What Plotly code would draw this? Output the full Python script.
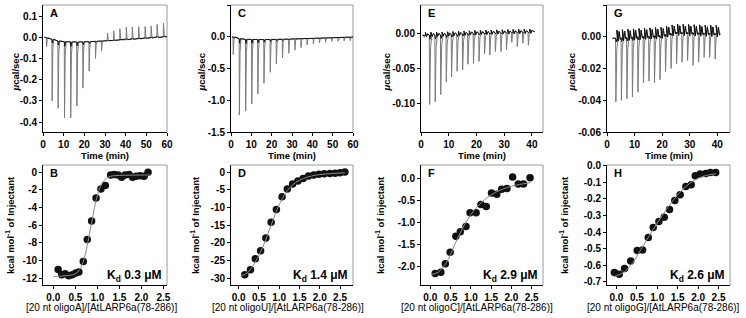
import numpy as np
import plotly.graph_objects as go

W, H = 746, 318

# ---------------- DATA ----------------
# Panel A (raw thermogram, oligoA)
A_inj_t = [1.6, 4.3, 7.2, 10.3, 13.3, 16.3, 19.2, 22.2, 25.3, 28.2, 31.1, 34.1, 37.1, 40.2, 43.1, 46.2, 49.3, 52.2, 55.1, 58.2]
A_peak = [-0.045, -0.30, -0.335, -0.38, -0.38, -0.325, -0.24, -0.16, -0.10, -0.065, 0.02, 0.03, 0.04, 0.048, 0.048, 0.05, 0.05, 0.053, 0.06, 0.066]
A_base_t = [0.7, 3, 8, 15, 22, 30, 40, 50, 60]
A_base_v = [0.0, -0.006, -0.02, -0.023, -0.021, -0.017, -0.012, -0.005, 0.003]

# Panel C (raw thermogram, oligoU)
C_inj_t = [1.0, 4.0, 7.1, 10.1, 13.1, 16.1, 19.2, 22.2, 25.2, 28.3, 31.3, 34.3, 37.3, 40.4, 43.4, 46.4, 49.4, 52.5, 55.5, 58.5]
C_peak = [-0.28, -1.23, -1.17, -1.06, -0.90, -0.73, -0.56, -0.43, -0.33, -0.26, -0.21, -0.17, -0.13, -0.115, -0.095, -0.085, -0.075, -0.07, -0.065, -0.06]
C_base_t = [0.5, 2, 5, 15, 25, 35, 45, 60]
C_base_v = [0.0, -0.01, -0.04, -0.045, -0.04, -0.03, -0.02, -0.005]

# Panel E (raw thermogram, oligoC)
E_inj_t = [1.0, 3.0, 5.0, 7.0, 9.0, 10.9, 12.9, 14.9, 16.8, 18.8, 20.8, 22.8, 24.7, 26.7, 28.7, 30.7, 32.6, 34.6, 36.6, 38.6]
E_peak = [-0.006, -0.101, -0.097, -0.087, -0.069, -0.062, -0.054, -0.052, -0.044, -0.043, -0.040, -0.029, -0.031, -0.026, -0.026, -0.023, -0.013, -0.019, -0.014, -0.017]
E_base_t = [0.5, 10, 20, 30, 41]
E_base_v = [-0.003, -0.002, 0.0, 0.001, 0.002]
E_ring_dt = [0.6, 1.0, 1.4]
E_ring_amp = [0.004, -0.002, 0.002]

# Panel G (raw thermogram, oligoG)
G_inj_t = [3.1, 5.1, 7.1, 9.1, 11.1, 13.1, 15.1, 17.1, 19.1, 21.1, 23.1, 25.1, 27.1, 29.1, 31.1, 33.1, 35.1, 37.1, 39.1]
G_peak = [-0.041, -0.040, -0.039, -0.038, -0.035, -0.029, -0.028, -0.029, -0.027, -0.022, -0.020, -0.017, -0.016, -0.015, -0.018, -0.016, -0.013, -0.013, -0.014]
G_base_t = [2.0, 10, 20, 25, 41]
G_base_v = [-0.001, 0.0, 0.001, 0.003, 0.002]
G_ring_dt = [0.5, 0.9, 1.3, 1.7]
G_ring_amp = [0.005, -0.002, 0.004, -0.001]

# Panel B (integrated heats, oligoA)
B_x = [0.11, 0.19, 0.27, 0.35, 0.43, 0.51, 0.58, 0.68, 0.77, 0.87, 0.97, 1.08, 1.18, 1.30, 1.38, 1.47, 1.55, 1.63, 1.72, 1.80, 1.88, 1.97, 2.06, 2.15]
B_y = [-11.0, -11.6, -11.5, -11.7, -11.6, -11.4, -11.3, -10.1, -7.6, -5.5, -2.9, -1.9, -1.5, -0.3, -0.25, -0.3, -0.55, -0.3, -0.25, -0.55, -0.45, -0.4, -0.45, 0.0]
B_fit_x = [0.0, 0.3, 0.5, 0.6, 0.7, 0.8, 0.9, 1.0, 1.1, 1.2, 1.3, 1.5, 1.8, 2.2]
B_fit_y = [-11.8, -11.7, -11.5, -11.0, -9.8, -7.5, -4.9, -2.6, -1.3, -0.7, -0.45, -0.35, -0.32, -0.3]

# Panel D (integrated heats, oligoU)
D_x = [0.15, 0.29, 0.41, 0.54, 0.67, 0.80, 0.93, 1.07, 1.20, 1.33, 1.46, 1.59, 1.72, 1.85, 1.98, 2.11, 2.25, 2.38, 2.50, 2.62]
D_y = [-29.0, -27.6, -24.5, -22.2, -18.6, -14.2, -10.6, -7.0, -4.8, -3.4, -2.5, -1.8, -1.1, -0.8, -0.6, -0.5, -0.4, -0.3, -0.2, 0.0]
D_fit_x = [0.05, 0.2, 0.4, 0.6, 0.8, 1.0, 1.2, 1.4, 1.6, 1.8, 2.0, 2.3, 2.62]
D_fit_y = [-29.3, -28.6, -25.6, -21.0, -15.0, -9.2, -5.2, -3.0, -1.8, -1.1, -0.7, -0.4, -0.2]

# Panel F (integrated heats, oligoC)
F_x = [0.12, 0.26, 0.37, 0.49, 0.63, 0.74, 0.88, 0.98, 1.13, 1.25, 1.38, 1.51, 1.64, 1.76, 1.89, 2.03, 2.17, 2.30, 2.46]
F_y = [-2.15, -2.12, -1.93, -1.67, -1.31, -1.21, -1.09, -0.78, -0.78, -0.59, -0.64, -0.33, -0.36, -0.25, -0.23, 0.03, -0.13, -0.13, 0.01]
F_fit_x = [0.04, 0.2, 0.4, 0.6, 0.8, 1.0, 1.2, 1.4, 1.6, 1.8, 2.0, 2.2, 2.47]
F_fit_y = [-2.17, -2.12, -1.9, -1.5, -1.12, -0.82, -0.6, -0.44, -0.32, -0.24, -0.18, -0.14, -0.1]

# Panel H (integrated heats, oligoG)
H_x = [-0.05, 0.07, 0.2, 0.35, 0.51, 0.64, 0.78, 0.9, 1.04, 1.17, 1.3, 1.43, 1.56, 1.7, 1.83, 1.93, 2.05, 2.19, 2.3, 2.43]
H_y = [-0.645, -0.655, -0.62, -0.575, -0.512, -0.508, -0.433, -0.373, -0.337, -0.31, -0.264, -0.21, -0.175, -0.125, -0.115, -0.06, -0.05, -0.046, -0.04, -0.04]
H_fit_x = [-0.05, 0.2, 0.4, 0.6, 0.8, 1.0, 1.2, 1.4, 1.6, 1.8, 2.0, 2.2, 2.43]
H_fit_y = [-0.67, -0.64, -0.585, -0.505, -0.425, -0.345, -0.272, -0.205, -0.148, -0.105, -0.075, -0.058, -0.048]

# Tick labels
time_ticks_60 = [0, 10, 20, 30, 40, 50, 60]
time_ticks_40 = [0, 10, 20, 30, 40]
ratio_ticks = [0.0, 0.5, 1.0, 1.5, 2.0, 2.5]
ratio_labels = ["0.0", "0.5", "1.0", "1.5", "2.0", "2.5"]
A_yticks = [0.1, 0.0, -0.1, -0.2, -0.3, -0.4]
A_ylabels = ["0.1", "0.0", "-0.1", "-0.2", "-0.3", "-0.4"]
C_yticks = [0.5, 0.0, -0.5, -1.0, -1.5]
C_ylabels = ["0.5", "0.0", "-0.5", "-1.0", "-1.5"]
E_yticks = [0.0, -0.05, -0.10]
E_ylabels = ["0.00", "-0.05", "-0.10"]
G_yticks = [0.02, 0.0, -0.02, -0.04, -0.06]
G_ylabels = ["0.02", "0.00", "-0.02", "-0.04", "-0.06"]
B_yticks = [0, -2, -4, -6, -8, -10, -12]
B_ylabels = ["0", "-2", "-4", "-6", "-8", "-10", "-12"]
D_yticks = [0, -5, -10, -15, -20, -25, -30]
D_ylabels = ["0", "-5", "-10", "-15", "-20", "-25", "-30"]
F_yticks = [0.0, -0.5, -1.0, -1.5, -2.0]
F_ylabels = ["0.0", "-0.5", "-1.0", "-1.5", "-2.0"]
H_yticks = [0.0, -0.1, -0.2, -0.3, -0.4, -0.5, -0.6, -0.7]
H_ylabels = ["0.0", "-0.1", "-0.2", "-0.3", "-0.4", "-0.5", "-0.6", "-0.7"]

letters = ["A", "C", "E", "G", "B", "D", "F", "H"]
kd_text = ["0.3", "1.4", "2.9", "2.6"]
ratio_titles = ["[20 nt oligoA]/[AtLARP6a(78-286)]", "[20 nt oligoU]/[AtLARP6a(78-286)]",
                "[20 nt oligoC]/[AtLARP6a(78-286)]", "[20 nt oligoG]/[AtLARP6a(78-286)]"]
heat_titles = ["kcal mol<sup>-1</sup> of Injectant", "kcal mol<sup>-1</sup> of Injectant",
               "kcal mol<sup>-1</sup> of injectant", "kcal mol<sup>-1</sup> of injectant"]

# ---------------- LAYOUT GEOMETRY (pixels) ----------------
cols = [(43, 167), (231, 353), (421, 543), (607, 730)]
rows = [(5, 132), (165, 285)]
ytitle_x = [[15, 201, 386, 571], [10, 195, 380, 564]]
ratio_title_cx = [101, 288, 477, 663]


def fx(p):
    return p / W


def fy(p):
    return 1 - p / H


def thermo(t0, t1, inj_t, peaks, bt, bv, ring_dt=(), ring_amp=()):
    xs, ys = [t0], [float(np.interp(t0, bt, bv))]
    bxs, bys = [t0], [float(np.interp(t0, bt, bv))]
    for t, p in zip(inj_t, peaks):
        b = float(np.interp(t, bt, bv))
        xs += [t, t + 0.12, t + 0.45, t + 0.9]
        ys += [b, p, b + 0.18 * (p - b), b]
        bxs += [t, t + 0.25, t + 0.6]
        bys += [b, b + 0.06 * (p - b), b]
        for dt, a in zip(ring_dt, ring_amp):
            bb = float(np.interp(t + dt, bt, bv))
            xs.append(t + dt); ys.append(bb + a)
            bxs.append(t + dt); bys.append(bb + a)
    xs.append(t1); ys.append(float(np.interp(t1, bt, bv)))
    bxs.append(t1); bys.append(float(np.interp(t1, bt, bv)))
    return xs, ys, bxs, bys


fig = go.Figure()

top_series = [
    (0.7, 60, A_inj_t, A_peak, A_base_t, A_base_v, (), ()),
    (0.5, 60, C_inj_t, C_peak, C_base_t, C_base_v, (), ()),
    (0.5, 41, E_inj_t, E_peak, E_base_t, E_base_v, E_ring_dt, E_ring_amp),
    (2.0, 41, G_inj_t, G_peak, G_base_t, G_base_v, G_ring_dt, G_ring_amp),
]
for i, s in enumerate(top_series):
    xs, ys, bxs, bys = thermo(*s)
    n = i + 1
    fig.add_trace(go.Scatter(x=xs, y=ys, mode="lines", line=dict(color="#7a7a7a", width=1),
                             xaxis=f"x{n}", yaxis=f"y{n}", showlegend=False, hoverinfo="skip"))
    fig.add_trace(go.Scatter(x=bxs, y=bys, mode="lines", line=dict(color="#111111", width=1),
                             xaxis=f"x{n}", yaxis=f"y{n}", showlegend=False, hoverinfo="skip"))

bottom_series = [(B_x, B_y, B_fit_x, B_fit_y), (D_x, D_y, D_fit_x, D_fit_y),
                 (F_x, F_y, F_fit_x, F_fit_y), (H_x, H_y, H_fit_x, H_fit_y)]
for i, (x, y, fxv, fyv) in enumerate(bottom_series):
    n = i + 5
    fig.add_trace(go.Scatter(x=x, y=y, mode="markers", marker=dict(color="#111111", size=7.5),
                             xaxis=f"x{n}", yaxis=f"y{n}", showlegend=False))
    fig.add_trace(go.Scatter(x=fxv, y=fyv, mode="lines", line=dict(color="#8a8a8a", width=1, shape="spline"),
                             xaxis=f"x{n}", yaxis=f"y{n}", showlegend=False, hoverinfo="skip"))

tickfont = dict(family="Arial", size=10, color="black", weight="bold")


def xax(n, col, row, rng, tv, tt):
    return dict(domain=[fx(cols[col][0]), fx(cols[col][1])], range=rng, tickvals=tv, ticktext=tt,
                anchor=f"y{n}", showline=True, linecolor="black", linewidth=1, ticks="outside",
                ticklen=3, tickwidth=1, tickcolor="black", showgrid=False, zeroline=False,
                tickfont=tickfont, automargin=False)


def yax(n, col, row, rng, tv, tt):
    return dict(domain=[fy(rows[row][1]), fy(rows[row][0])], range=rng, tickvals=tv, ticktext=tt,
                anchor=f"x{n}", showline=True, linecolor="black", linewidth=1, ticks="outside",
                ticklen=3, tickwidth=1, tickcolor="black", showgrid=False, zeroline=False,
                tickfont=tickfont, automargin=False)


layout = {}
axes_spec = [
    (1, 0, 0, [0, 60], time_ticks_60, [str(v) for v in time_ticks_60], [-0.447, 0.152], A_yticks, A_ylabels),
    (2, 1, 0, [0, 60], time_ticks_60, [str(v) for v in time_ticks_60], [-1.5, 0.5], C_yticks, C_ylabels),
    (3, 2, 0, [0, 44], time_ticks_40, [str(v) for v in time_ticks_40], [-0.14, 0.04], E_yticks, E_ylabels),
    (4, 3, 0, [0, 44.6], time_ticks_40, [str(v) for v in time_ticks_40], [-0.06, 0.02], G_yticks, G_ylabels),
    (5, 0, 1, [-0.234, 2.58], ratio_ticks, ratio_labels, [-12.76, 0.83], B_yticks, B_ylabels),
    (6, 1, 1, [-0.19, 2.82], ratio_ticks, ratio_labels, [-31.9, 2.0], D_yticks, D_ylabels),
    (7, 2, 1, [-0.23, 2.78], ratio_ticks, ratio_labels, [-2.41, 0.3], F_yticks, F_ylabels),
    (8, 3, 1, [-0.23, 2.78], ratio_ticks, ratio_labels, [-0.72, 0.005], H_yticks, H_ylabels),
]
shapes = []
annotations = []
for n, col, row, xr, xtv, xtt, yr, ytv, ytt in axes_spec:
    xk = "xaxis" if n == 1 else f"xaxis{n}"
    yk = "yaxis" if n == 1 else f"yaxis{n}"
    layout[xk] = xax(n, col, row, xr, xtv, xtt)
    layout[yk] = yax(n, col, row, yr, ytv, ytt)
    xd = "x domain" if n == 1 else f"x{n} domain"
    yd = "y domain" if n == 1 else f"y{n} domain"
    shapes.append(dict(type="line", xref=xd, yref=yd, x0=0, x1=1, y0=1, y1=1,
                       line=dict(color="#9a9a9a", width=1), layer="below"))
    shapes.append(dict(type="line", xref=xd, yref=yd, x0=1, x1=1, y0=0, y1=1,
                       line=dict(color="#9a9a9a", width=1), layer="below"))
    annotations.append(dict(text=letters[n - 1], xref="paper", yref="paper",
                            x=fx(cols[col][0] + 5), y=fy(rows[row][0] + 8),
                            xanchor="left", yanchor="middle", showarrow=False,
                            font=dict(family="Arial", size=11, color="black", weight="bold")))
    if row == 0:
        annotations.append(dict(text="Time (min)", xref="paper", yref="paper",
                                x=fx((cols[col][0] + cols[col][1]) / 2), y=fy(155),
                                xanchor="center", yanchor="middle", showarrow=False,
                                font=dict(family="Arial", size=9.5, color="black", weight="bold")))
        annotations.append(dict(text="<i>μ</i>cal/sec", xref="paper", yref="paper",
                                x=fx(ytitle_x[0][col]), y=fy((rows[0][0] + rows[0][1]) / 2 + 4),
                                xanchor="center", yanchor="middle", textangle=-90, showarrow=False,
                                font=dict(family="Arial", size=9.5, color="black", weight="bold")))
    else:
        annotations.append(dict(text=ratio_titles[col], xref="paper", yref="paper",
                                x=fx(ratio_title_cx[col]), y=fy(307.5),
                                xanchor="center", yanchor="middle", showarrow=False,
                                font=dict(family="Arial", size=10, color="black")))
        annotations.append(dict(text=heat_titles[col], xref="paper", yref="paper",
                                x=fx(ytitle_x[1][col]), y=fy((rows[1][0] + rows[1][1]) / 2),
                                xanchor="center", yanchor="middle", textangle=-90, showarrow=False,
                                font=dict(family="Arial", size=9.5, color="black", weight="bold")))
        annotations.append(dict(text="K<sub>d</sub> " + kd_text[col] + " μM", xref="paper", yref="paper",
                                x=fx(cols[col][1] - 4), y=fy(276),
                                xanchor="right", yanchor="middle", showarrow=False,
                                font=dict(family="Arial", size=12, color="black", weight="bold")))

fig.update_layout(**layout)
fig.update_layout(width=W, height=H, margin=dict(l=0, r=0, t=0, b=0),
                  paper_bgcolor="white", plot_bgcolor="white",
                  shapes=shapes, annotations=annotations, showlegend=False)
fig.write_html("out.html", config={"displayModeBar": False},
               post_script="document.body.style.margin='0px';document.body.style.padding='0px';")
